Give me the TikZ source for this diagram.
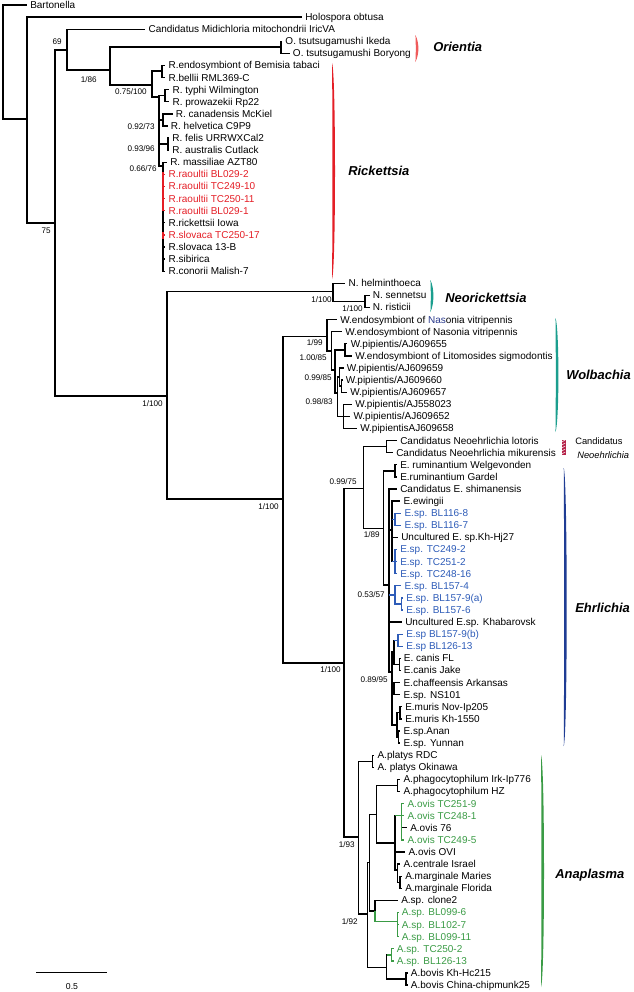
\documentclass[tikz,border=0pt]{standalone}
\usepackage{fontspec}
\setmainfont{Liberation Sans}
\definecolor{rred}{HTML}{E41E26}
\definecolor{eblue}{HTML}{2E5CB8}
\definecolor{agreen}{HTML}{3A9B45}
\definecolor{obar}{HTML}{EF5B5B}
\definecolor{tealb}{HTML}{1B9E8E}
\definecolor{ebar}{HTML}{1F3C94}
\definecolor{nbar}{HTML}{B5234A}
\definecolor{navyb}{HTML}{2A3A8C}
\newcommand{\lf}[5][black]{\coordinate (#2) at (#3,#4);\node[leaf,text=#1] (#2t) at ({#3+3.2},{#4+3.4}) {#5};}
\newcommand{\br}[3][black]{\draw[br,#1] (#2) |- (#3);}
\newcommand{\brh}[3]{\draw[br] (#2) |- (#3);\draw[br,#1] (#2 |- #3) -- (#3);}
\newcommand{\sv}[4]{\node[sup] (#1) at (#2,#3) {#4};}
\newcommand{\clbar}[5]{\fill[#5] (#2,#3) .. controls ({#2+4},{#3+8}) and ({#2+4},{#4-8}) .. (#2,#4) .. controls ({#2+0.5},{#4-8}) and ({#2+0.5},{#3+8}) .. cycle;\coordinate (#1) at (#2,#3);}
\begin{document}
\begin{tikzpicture}[x=0.75pt,y=-0.75pt,
  br/.style={line width=0.95pt},
  leaf/.style={anchor=base west,inner sep=0pt,font=\fontsize{7.5}{9}\selectfont},
  sup/.style={anchor=east,inner sep=0pt,font=\fontsize{6.1}{7}\selectfont},
  clade/.style={anchor=west,inner sep=0pt,font=\fontsize{9.7}{11}\selectfont\bfseries\itshape}]
\useasboundingbox (0,0) rectangle (633,992);
% internal nodes
\coordinate (r0) at (3,62);
\coordinate (nA) at (27,119);
\coordinate (nB) at (55,223);
\coordinate (nC) at (67,50);
\coordinate (nD) at (110,70);
\coordinate (nO) at (281,47);
\coordinate (nE) at (152,85);
\coordinate (nF) at (162,71);
\coordinate (nG) at (159,97);
\coordinate (nH) at (165,95.7);
\coordinate (nK1) at (163,120);
\coordinate (nK2) at (168,144);
\coordinate (nR1) at (163,166);
\coordinate (nI) at (167,396);
\coordinate (nN1) at (333,291.7);
\coordinate (nN2) at (365,301.5);
\coordinate (nJ) at (283,499);
\coordinate (nW1) at (327,336.5);
\coordinate (nW2) at (331.7,351);
\coordinate (nW3) at (335,370);
\coordinate (nW4) at (345,349.9);
\coordinate (nW5) at (337.5,393);
\coordinate (nW6) at (339.3,377);
\coordinate (nW6b) at (341.5,386);
\coordinate (nW7) at (343.3,416.4);
\coordinate (nK) at (344,663);
\coordinate (nL) at (363.3,488.3);
\coordinate (nNE) at (386.7,446.6);
\coordinate (nM) at (383.3,528.3);
\coordinate (nRU) at (395,470.9);
\coordinate (nN) at (389,585);
\coordinate (nP) at (392,530);
\coordinate (nB116) at (395,519.2);
\coordinate (nTC) at (395,561.6);
\coordinate (nB157) at (395,595);
\coordinate (nB157b) at (401.7,604);
\coordinate (nQ) at (392,672);
\coordinate (nG3) at (394,652);
\coordinate (nBB) at (398,640.2);
\coordinate (nCF) at (399.5,664.5);
\coordinate (nCN) at (394,688.6);
\coordinate (nMA) at (397,725);
\coordinate (nMU) at (400,712.8);
\coordinate (nAY) at (398.3,737);
\coordinate (nR) at (358.3,837);
\coordinate (nPL) at (372.7,761.2);
\coordinate (nS) at (367.3,914);
\coordinate (nZ) at (369.5,862.7);
\coordinate (nT) at (386.7,967.3);
\coordinate (nU) at (376.7,814.5);
\coordinate (nPH) at (397.3,785.5);
\coordinate (nV) at (395,843);
\coordinate (nW) at (401.7,815.7);
\coordinate (nMG) at (397.3,870);
\coordinate (nMG2) at (400,882.2);
\coordinate (nX) at (375,911);
\coordinate (nY) at (397.3,921.7);
\coordinate (nGP) at (391.7,955);
\coordinate (nBV) at (406,979);
% leaves
\lf{bart}{26.8}{5}{Bartonella}
\lf{hol}{301.8}{17.1}{Holospora obtusa}
\lf{mid}{145.1}{29.2}{Candidatus Midichloria mitochondrii IricVA}
\lf{ike}{282}{41.3}{O. tsutsugamushi Ikeda}
\lf{bor}{289.5}{53.4}{O. tsutsugamushi Boryong}
\lf{bem}{165.1}{65.5}{R.endosymbiont of Bemisia tabaci}
\lf{bel}{165.1}{77.6}{R.bellii RML369-C}
\lf{typ}{169.1}{89.7}{R. typhi Wilmington}
\lf{pro}{169.1}{101.8}{R. prowazekii Rp22}
\lf{can}{172.5}{113.9}{R. canadensis McKiel}
\lf{hel}{167.5}{126.0}{R. helvetica C9P9}
\lf{fel}{169}{138.1}{R. felis URRWXCal2}
\lf{aus}{169}{150.2}{R. australis Cutlack}
\lf{mas}{166.8}{162.3}{R. massiliae AZT80}
\lf[rred]{ra1}{165.1}{174.4}{R.raoultii BL029-2}
\lf[rred]{ra2}{165.1}{186.5}{R.raoultii TC249-10}
\lf[rred]{ra3}{165.1}{198.6}{R.raoultii TC250-11}
\lf[rred]{ra4}{165.1}{210.7}{R.raoultii BL029-1}
\lf{iow}{165.1}{222.8}{R.rickettsii Iowa}
\lf[rred]{sl1}{165.1}{234.9}{R.slovaca TC250-17}
\lf{sl2}{165.1}{247.0}{R.slovaca 13-B}
\lf{sib}{165.1}{259.1}{R.sibirica}
\lf{con}{165.1}{271.2}{R.conorii Malish-7}
\lf{hmt}{345.1}{283.3}{N. helminthoeca}
\lf{sen}{369.5}{295.4}{N. sennetsu}
\lf{ris}{369.5}{307.5}{N. risticii}
\lf{was1}{336.8}{319.6}{W.endosymbiont of {\color{navyb}Nas}onia vitripennis}
\lf{was2}{341.8}{331.7}{W.endosymbiont of Nasonia vitripennis}
\lf{w655}{347.3}{343.8}{W.pipientis/AJ609655}
\lf{wlit}{351.8}{355.9}{W.endosymbiont of Litomosides sigmodontis}
\lf{w659}{343.5}{368.0}{W.pipientis/AJ609659}
\lf{w660}{342.3}{380.1}{W.pipientis/AJ609660}
\lf{w657}{346.8}{392.2}{W.pipientis/AJ609657}
\lf{w023}{351.8}{404.3}{W.pipientis/AJ558023}
\lf{w652}{350.1}{416.4}{W.pipientis/AJ609652}
\lf{w658}{356.8}{428.5}{W.pipientisAJ609658}
\lf{lot}{396.8}{440.6}{Candidatus Neoehrlichia lotoris}
\lf{mik}{392.8}{452.7}{Candidatus Neoehrlichia mikurensis}
\lf{wel}{396.8}{464.8}{E. ruminantium Welgevonden}
\lf{gar}{396.8}{476.9}{E.ruminantium Gardel}
\lf{shi}{396.8}{489.0}{Candidatus E. shimanensis}
\lf{ewi}{400.1}{501.1}{E.ewingii}
\lf[eblue]{b1168}{401.1}{513.2}{E.sp. BL116-8}
\lf[eblue]{b1167}{401.1}{525.3}{E.sp. BL116-7}
\lf{khj}{397.8}{537.4}{Uncultured E. sp.Kh-Hj27}
\lf[eblue]{tca}{396.8}{549.5}{E.sp. TC249-2}
\lf[eblue]{tcb}{396.8}{561.6}{E.sp. TC251-2}
\lf[eblue]{tcc}{396.8}{573.7}{E.sp. TC248-16}
\lf[eblue]{b1574}{401.1}{585.8}{E.sp. BL157-4}
\lf[eblue]{b1579a}{402.8}{597.9}{E.sp. BL157-9(a)}
\lf[eblue]{b1576}{402.8}{610.0}{E.sp. BL157-6}
\lf{kha}{401.8}{622.1}{Uncultured E.sp. Khabarovsk}
\lf[eblue]{b1579b}{402.8}{634.2}{E.sp BL157-9(b)}
\lf[eblue]{b12613}{402.8}{646.3}{E.sp BL126-13}
\lf{cfl}{400.5}{658.4}{E. canis FL}
\lf{cja}{400.5}{670.5}{E.canis Jake}
\lf{cha}{400.1}{682.6}{E.chaffeensis Arkansas}
\lf{ns1}{400.1}{694.7}{E.sp. NS101}
\lf{mnv}{401.8}{706.8}{E.muris Nov-Ip205}
\lf{mkh}{401.8}{718.9}{E.muris Kh-1550}
\lf{ana}{400.1}{731.0}{E.sp.Anan}
\lf{yun}{400.1}{743.1}{E.sp. Yunnan}
\lf{prd}{374.1}{755.2}{A.platys RDC}
\lf{pok}{374.1}{767.3}{A. platys Okinawa}
\lf{irk}{400.1}{779.4}{A.phagocytophilum Irk-Ip776}
\lf{phz}{400.1}{791.5}{A.phagocytophilum HZ}
\lf[agreen]{o2519}{404.1}{803.6}{A.ovis TC251-9}
\lf[agreen]{o2481}{404.1}{815.7}{A.ovis TC248-1}
\lf{o76}{406.8}{827.8}{A.ovis 76}
\lf[agreen]{o2495}{404.1}{839.9}{A.ovis TC249-5}
\lf{ovi}{405.1}{852.0}{A.ovis OVI}
\lf{cen}{400.1}{864.1}{A.centrale Israel}
\lf{mar}{401.8}{876.2}{A.marginale Maries}
\lf{flo}{401.8}{888.3}{A.marginale Florida}
\lf{cl2}{397.8}{900.4}{A.sp. clone2}
\lf[agreen]{a0996}{398.5}{912.5}{A.sp. BL099-6}
\lf[agreen]{a1027}{398.5}{924.6}{A.sp. BL102-7}
\lf[agreen]{a09911}{398.5}{936.7}{A.sp. BL099-11}
\lf[agreen]{a2502}{393.5}{948.8}{A.sp. TC250-2}
\lf[agreen]{a12613}{393.5}{960.9}{A.sp. BL126-13}
\lf{bkh}{407.5}{973.0}{A.bovis Kh-Hc215}
\lf{bch}{407.5}{985.1}{A.bovis China-chipmunk25}
% branches
\br{r0}{bart} \br{r0}{nA}
\br{nA}{hol} \br{nA}{nB}
\br{nB}{nC} \br{nB}{nI}
\br{nC}{mid} \br{nC}{nD}
\br{nD}{nO} \br{nD}{nE}
\br{nO}{ike} \br{nO}{bor}
\br{nE}{nF} \br{nE}{nG}
\br{nF}{bem} \br{nF}{bel}
\br{nG}{nH} \br{nG}{nK1} \br{nG}{nK2} \br{nG}{nR1}
\br{nH}{typ} \br{nH}{pro}
\br{nK1}{can} \br{nK1}{hel}
\br{nK2}{fel} \br{nK2}{aus}
\br{nR1}{mas} \br{nR1}{iow} \br{nR1}{sl2} \br{nR1}{sib} \br{nR1}{con}
\brh{rred}{nR1}{ra1} \brh{rred}{nR1}{ra2} \brh{rred}{nR1}{ra3} \brh{rred}{nR1}{ra4} \brh{rred}{nR1}{sl1}
\draw[br,rred] (163,172) -- (163,211.2);
\draw[br,rred] (163,231.5) -- (163,238.5);
\br{nI}{nN1} \br{nI}{nJ}
\br{nN1}{hmt} \br{nN1}{nN2}
\br{nN2}{sen} \br{nN2}{ris}
\br{nJ}{nW1} \br{nJ}{nK}
\br{nW1}{was1} \br{nW1}{nW2}
\br{nW2}{was2} \br{nW2}{nW3}
\br{nW3}{nW4} \br{nW3}{nW5}
\br{nW4}{w655} \br{nW4}{wlit}
\br{nW5}{nW6} \br{nW5}{nW7}
\br{nW6}{w659} \br{nW6}{nW6b}
\br{nW6b}{w660} \br{nW6b}{w657}
\br{nW7}{w023} \br{nW7}{w652} \br{nW7}{w658}
\br{nK}{nL} \br{nK}{nR}
\br{nL}{nNE} \br{nL}{nM}
\br{nNE}{lot} \br{nNE}{mik}
\br{nM}{nRU} \br{nM}{nN}
\br{nRU}{wel} \br{nRU}{gar}
\br{nN}{shi} \br{nN}{nP} \br{nN}{kha} \br{nN}{nQ} \brh{eblue}{nN}{nB157}
\br{nP}{ewi} \br{nP}{khj} \brh{eblue}{nP}{nB116} \brh{eblue}{nP}{nTC}
\br[eblue]{nB116}{b1168} \br[eblue]{nB116}{b1167}
\br[eblue]{nTC}{tca} \br[eblue]{nTC}{tcb} \br[eblue]{nTC}{tcc}
\br[eblue]{nB157}{b1574} \br[eblue]{nB157}{nB157b}
\br[eblue]{nB157b}{b1579a} \br[eblue]{nB157b}{b1576}
\br{nQ}{nG3} \br{nQ}{nCN} \br{nQ}{nMA}
\br{nG3}{nCF} \brh{eblue}{nG3}{nBB}
\br[eblue]{nBB}{b1579b} \br[eblue]{nBB}{b12613}
\br{nCF}{cfl} \br{nCF}{cja}
\br{nCN}{cha} \br{nCN}{ns1}
\br{nMA}{nMU} \br{nMA}{nAY}
\br{nMU}{mnv} \br{nMU}{mkh}
\br{nAY}{ana} \br{nAY}{yun}
\br{nR}{nPL} \br{nR}{nS}
\br{nPL}{prd} \br{nPL}{pok}
\br{nS}{nZ} \br{nS}{nT}
\br{nZ}{nU} \br{nZ}{nX}
\br{nU}{nPH} \br{nU}{nV}
\br{nPH}{irk} \br{nPH}{phz}
\br{nV}{ovi} \br{nV}{nMG} \brh{agreen}{nV}{nW}
\br{nW}{o76}
\br[agreen]{nW}{o2519} \br[agreen]{nW}{o2481} \br[agreen]{nW}{o2495}
\br{nMG}{cen} \br{nMG}{nMG2}
\br{nMG2}{mar} \br{nMG2}{flo}
\br{nX}{cl2} \br[agreen]{nX}{nY}
\br[agreen]{nY}{a0996} \br[agreen]{nY}{a1027} \br[agreen]{nY}{a09911}
\br{nT}{nBV} \brh{agreen}{nT}{nGP}
\br[agreen]{nGP}{a2502} \br[agreen]{nGP}{a12613}
\br{nBV}{bkh} \br{nBV}{bch}
% support values
\sv{s69}{62}{42}{69}
\sv{s75}{51}{231}{75}
\sv{s186}{97}{80}{1/86}
\sv{s075}{147}{92}{0.75/100}
\sv{s092}{155}{127}{0.92/73}
\sv{s093}{155}{149}{0.93/96}
\sv{s066}{157}{169}{0.66/76}
\sv{sN1}{332}{299.3}{1/100}
\sv{sN2}{363}{308.3}{1/100}
\sv{sI}{163}{404}{1/100}
\sv{sJ}{279}{506.7}{1/100}
\sv{sW1}{323}{342.5}{1/99}
\sv{sW2}{327}{358}{1.00/85}
\sv{sW3}{332}{377.7}{0.99/85}
\sv{sW5}{333}{401.7}{0.98/83}
\sv{sL}{357}{481.7}{0.99/75}
\sv{sM}{380}{535}{1/89}
\sv{sN}{385}{595}{0.53/57}
\sv{sK}{341}{670}{1/100}
\sv{sQ}{388}{679.3}{0.89/95}
\sv{sR}{355}{844.3}{1/93}
\sv{sS}{358}{921.7}{1/92}
% clade bars
\clbar{cbO}{415.4}{35}{62}{obar}
\clbar{cbR}{332}{63}{279}{rred}
\clbar{cbN}{430.4}{280}{312}{tealb}
\clbar{cbW}{555.4}{318}{432}{tealb}
\clbar{cbE}{563.7}{468}{746}{ebar}
\clbar{cbA}{541}{755}{987}{agreen}
\fill[nbar] (561.5,440) rectangle (565.5,455);
\foreach \yy in {442,445,448,451,454}{\draw[white,line width=0.35pt] (561.8,\yy) -- (565.2,\yy-2);}
\node[clade] (lO) at (433,47) {Orientia};
\node[clade] (lR) at (348,171) {Rickettsia};
\node[clade] (lN) at (445,298) {Neorickettsia};
\node[clade] (lW) at (566,375) {Wolbachia};
\node[clade] (lE) at (575,608) {Ehrlichia};
\node[clade] (lA) at (555,875) {Anaplasma};
\node[anchor=base west,inner sep=0pt,font=\fontsize{7}{8}\selectfont] (lC1) at (575,444) {Candidatus};
\node[anchor=base west,inner sep=0pt,font=\fontsize{7}{8}\selectfont\itshape] (lC2) at (577,458) {Neoehrlichia};
% scale bar
\coordinate (sb1) at (36,972.3);
\coordinate (sb2) at (107.3,972.3);
\draw[line width=1.1pt] (sb1) -- (sb2);
\node[inner sep=0pt,font=\fontsize{6.5}{7}\selectfont] (sbl) at (72,987) {0.5};
\end{tikzpicture}
\end{document}
